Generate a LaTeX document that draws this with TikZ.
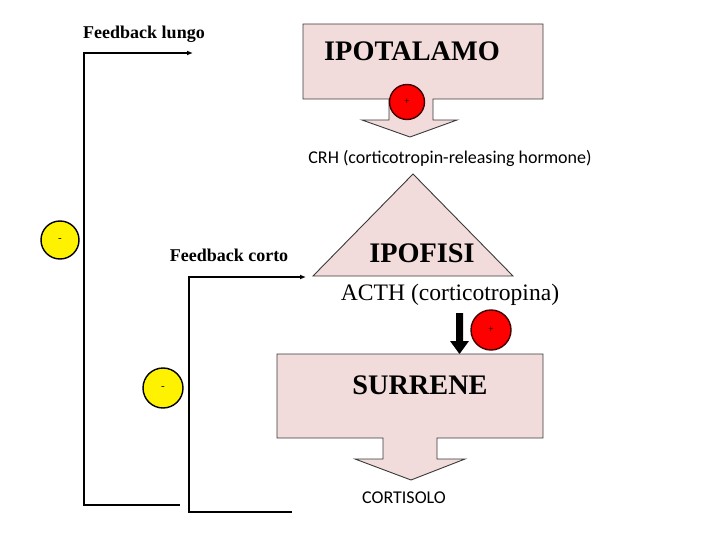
\documentclass[tikz,border=0pt]{standalone}
\usepackage{fontspec}
\setmainfont{Liberation Serif}
\newfontfamily\calib{Carlito}
\usetikzlibrary{arrows.meta}
\definecolor{pinkfill}{HTML}{F2DCDB}
\definecolor{edgegray}{HTML}{3A3A3A}
\begin{document}
\begin{tikzpicture}[x=1pt,y=-1pt,
  calloutshape/.style={fill=pinkfill,draw=edgegray,line width=0.9pt,line join=miter},
  plusdot/.style={circle,fill=red,draw=black!75!red,line width=1.4pt,minimum size=#1,inner sep=0pt,font=\fontsize{10}{10}\selectfont},
  minusdot/.style={circle,fill=yellow,draw=black,line width=1.4pt,minimum size=#1,inner sep=0pt,font=\fontsize{11}{11}\selectfont},
  fbline/.style={draw=black,line width=1.4pt},
  fbarrow/.style={fbline,-{Latex[length=6pt,width=5pt]}},
  bigtitle/.style={font=\fontsize{28.3}{30}\selectfont\bfseries,inner sep=0pt},
  fblabel/.style={font=\fontsize{18}{20}\selectfont\bfseries,inner sep=0pt},
  sanslabel/.style={font=\calib\fontsize{18}{20}\selectfont,inner sep=0pt}
]
\useasboundingbox (0,0) rectangle (720,540);
% IPOTALAMO callout
\path[calloutshape] (303,24) -- (543,24) -- (543,99) -- (433,99) -- (433,120) -- (457,120)
  -- (410,137) -- (362,120) -- (389,120) -- (389,99) -- (303,99) -- cycle;
\node[bigtitle] (ipot) at (412,51) {IPOTALAMO};
\node[plusdot=35pt] (p1) at (407,102) {+};
\node[sanslabel] (crh) at (450,158) {CRH (corticotropin-releasing hormone)};
% IPOFISI triangle
\path[calloutshape] (413,174) -- (513,276) -- (313,276) -- cycle;
\node[bigtitle] (ipof) at (422,253) {IPOFISI};
\node[font=\fontsize{23.6}{25}\selectfont,inner sep=0pt] (acth) at (450,295) {ACTH (corticotropina)};
% down arrow
\node[inner sep=0pt] (arrtop) at (459.5,313) {};
\coordinate (arrtip) at (459.5,354);
\fill[black] (456,313) -- (463,313) -- (463,341) -- (469,341) -- (459.5,354) -- (450,341) -- (456,341) -- cycle;
\node[plusdot=40pt] (p2) at (491,330) {+};
% SURRENE callout
\path[calloutshape] (277,354) -- (543,354) -- (543,438) -- (437,438) -- (437,459) -- (465,459)
  -- (411,480) -- (355,459) -- (383,459) -- (383,438) -- (277,438) -- cycle;
\node[bigtitle] (surr) at (420,385) {SURRENE};
\node[sanslabel] (cort) at (404,498) {CORTISOLO};
% feedback lungo
\node[fblabel] (fbl) at (144,34) {Feedback lungo};
\coordinate (l0) at (180,505);
\coordinate (l1) at (84,505);
\coordinate (l2) at (84,53);
\coordinate (l3) at (193,53);
\draw[fbarrow] (l0) -- (l1) -- (l2) -- (l3);
\node[minusdot=38pt] (m1) at (60,240) {-};
% feedback corto
\node[fblabel] (fbc) at (229,255) {Feedback corto};
\coordinate (c0) at (292,512);
\coordinate (c1) at (189,512);
\coordinate (c2) at (189,277);
\coordinate (c3) at (306,277);
\draw[fbarrow] (c0) -- (c1) -- (c2) -- (c3);
\node[minusdot=40pt] (m2) at (163,388) {-};
\end{tikzpicture}
\end{document}
